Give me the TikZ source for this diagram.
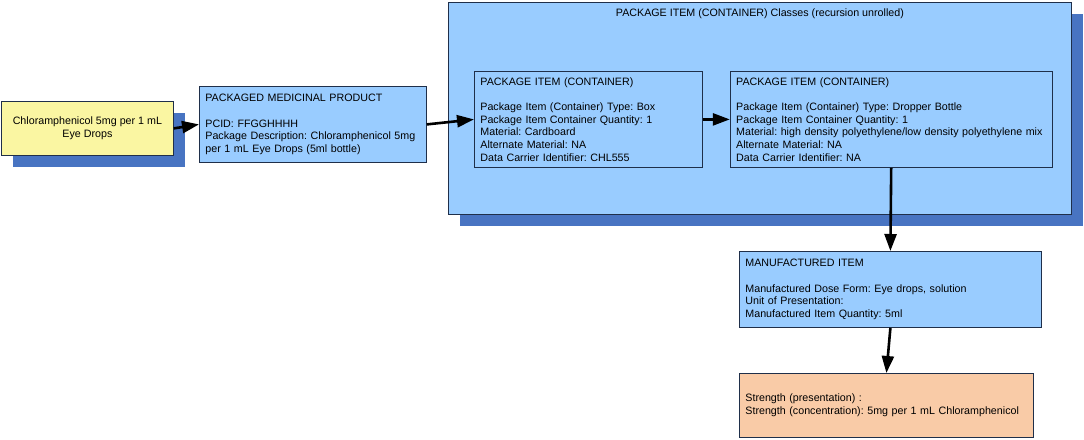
\documentclass[tikz,border=0pt]{standalone}
\usepackage{fontspec}
\setmainfont{Liberation Sans}
\usepackage{tikz}
\usetikzlibrary{arrows.meta, positioning, shadows}

\definecolor{boxblue}{HTML}{99CCFF}
\definecolor{shadowblue}{HTML}{4874C2}
\definecolor{drugyellow}{HTML}{FAF6A2}
\definecolor{strengthpeach}{HTML}{F9CBA7}
\definecolor{boxline}{HTML}{1F2F4A}
\frenchspacing

\begin{document}
\begin{tikzpicture}[x=1pt,y=-1pt,node distance=27pt,>={Triangle[length=17pt,width=12pt]},
        every node/.style={font=\fontsize{10.7}{12.6}\selectfont},
        classbox/.style={draw=boxline,line width=0.8pt,fill=boxblue,anchor=north west,
            inner xsep=6pt,inner ysep=0pt,align=left},
        shadowed/.style={drop shadow={shadow xshift=11.5pt,shadow yshift=-11.5pt,
            fill=shadowblue,opacity=1}},
        link/.style={->,line width=2.6pt}]

        \useasboundingbox (0,0) rectangle (1084,439);

        % product and packaged product
        \node[classbox,shadowed,fill=drugyellow,align=center,minimum width=172pt,minimum height=54pt]
            (drops) at (1,101) {Chloramphenicol 5mg per 1 mL\\Eye Drops};
        \node[classbox,text width=215pt,minimum height=76pt] (pmp) at (199,86)
            {PACKAGED MEDICINAL PRODUCT\\[12.6pt]PCID: FFGGHHHH\\Package Description: Chloramphenicol 5mg\\per 1 mL Eye Drops (5ml bottle)};

        % package item containers
        \node[classbox,shadowed,minimum width=623pt,minimum height=212pt] (items) at (448,2) {};
        \node[anchor=north,inner sep=2pt] (items_title) at ([yshift=-5pt]items.north)
            {PACKAGE ITEM (CONTAINER) Classes (recursion unrolled)};
        \node[classbox,text width=216pt,minimum height=96pt] (item_box) at (474,71)
            {PACKAGE ITEM (CONTAINER)\\[12.6pt]Package Item (Container) Type: Box\\Package Item Container Quantity: 1\\Material: Cardboard\\Alternate Material: NA\\Data Carrier Identifier: CHL555};
        \node[classbox,text width=310pt,minimum height=96pt,anchor=west] (item_bottle) [right=of item_box]
            {PACKAGE ITEM (CONTAINER)\\[12.6pt]Package Item (Container) Type: Dropper Bottle\\Package Item Container Quantity: 1\\Material: high density polyethylene/low density polyethylene mix\\Alternate Material: NA\\Data Carrier Identifier: NA};

        % manufactured item and strength
        \node[classbox,text width=290pt,minimum height=76pt] (mi) at (739,251)
            {MANUFACTURED ITEM\\[12.6pt]Manufactured Dose Form: Eye drops, solution\\Unit of Presentation:\\Manufactured Item Quantity: 5ml};
        \node[classbox,fill=strengthpeach,text width=282pt,minimum height=64pt] (strength) at (739,373)
            {Strength (presentation) :\\Strength (concentration): 5mg per 1 mL Chloramphenicol};

        \draw[link] (drops.east) -- (pmp.west);
        \draw[link] (pmp.east) -- (item_box.west);
        \draw[link] (item_box.east) -- (item_bottle.west);
        \draw[link] (item_bottle.south) -- (mi.north);
        \draw[link] (mi.south) -- (strength.north);
    \end{tikzpicture}
\end{document}
